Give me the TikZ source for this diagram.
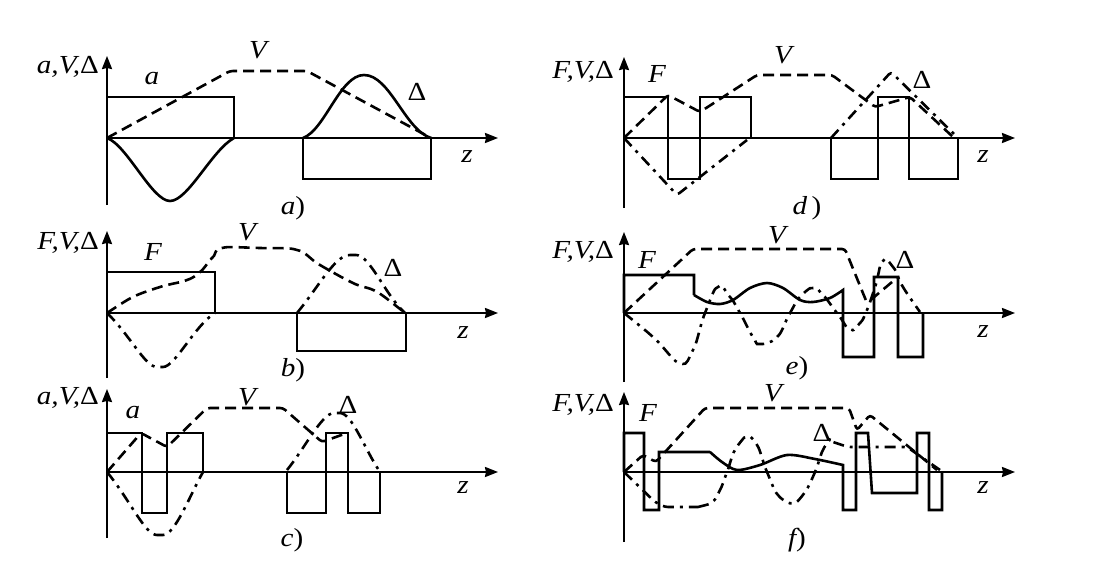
\documentclass[tikz,border=0pt]{standalone}
\usepackage{fontspec}
\setmainfont{Liberation Serif}
\newfontfamily\lblfont[FakeStretch=1.12]{Liberation Serif}
\usetikzlibrary{arrows,arrows.meta}

\begin{document}
\begin{tikzpicture}[x=1pt,y=-1pt,>={Stealth[length=13pt,width=10pt,inset=1pt]},line cap=butt]
\tikzstyle{axis}=[->,line width=2pt]
\tikzstyle{Fline}=[line width=2.6pt,line join=miter]
\tikzstyle{Vline}=[line width=2.6pt,dash pattern=on 11pt off 6pt,rounded corners=3pt]
\tikzstyle{Dline}=[line width=2.6pt,dash pattern=on 11pt off 6pt on 3pt off 6pt,rounded corners=3pt]
\tikzstyle{lbl}=[font=\lblfont\fontsize{26}{30}\selectfont,inner sep=0pt]
\useasboundingbox (0,0) rectangle (1094,564);
\fill[white] (0,0) rectangle (1094,564);

\coordinate (aO) at (107,138); \coordinate (aY) at (107,56);
\coordinate (aB) at (107,205); \coordinate (aZ) at (498,138);
\draw[axis] (aB) -- (aY);
\draw[axis] (aO) -- (aZ);
\node[lbl,anchor=east] (alab) at (99,67) {\itshape a,V,\upshape Δ};
\node[lbl] (aa) at (152,79) {\itshape a};
\node[lbl] (aV) at (258,50) {\itshape V};
\node[lbl] (aD) at (417,92) {Δ};
\node[lbl] (az) at (467,157) {\itshape z};
\node[lbl] (acap) at (293,208) {\itshape a\upshape)};
\draw[Fline] (aO) -- (107,97) -- (234,97) -- (234,138);
\draw[Fline] (303,138) -- (303,179) -- (431,179) -- (431,138);
\draw[Fline] (aO) .. controls (127,145) and (152,201) .. (170,201) .. controls (188,201) and (212,150) .. (234,138);
\draw[Fline] (303,138) .. controls (325,130) and (340,75) .. (364,75) .. controls (390,75) and (405,130) .. (431,138);
\draw[Vline] (aO) -- (230,71) -- (307,71) -- (431,138);

\coordinate (bO) at (107,313); \coordinate (bY) at (107,231);
\coordinate (bB) at (107,378); \coordinate (bZ) at (498,313);
\draw[axis] (bB) -- (bY);
\draw[axis] (bO) -- (bZ);
\node[lbl,anchor=east] (blab) at (99,243) {\itshape F,V,\upshape Δ};
\node[lbl] (bF) at (153,252) {\itshape F};
\node[lbl] (bV) at (247,232) {\itshape V};
\node[lbl] (bD) at (393,268) {Δ};
\node[lbl] (bz) at (463,333) {\itshape z};
\node[lbl] (bcap) at (293,370) {\itshape b\upshape)};
\draw[Fline] (bO) -- (107,272) -- (215,272) -- (215,313);
\draw[Fline] (297,313) -- (297,351) -- (406,351) -- (406,313);
\draw[Vline] plot[smooth,tension=0.5] coordinates {(107,313) (133,297) (160,287) (187,280) (200,272) (212,258) (222,248) (260,248) (297,250) (320,265) (353,283) (377,292) (405,313)};
\draw[Dline] (bO) .. controls (130,335) and (145,367) .. (160,367) .. controls (175,367) and (195,325) .. (215,313);
\draw[Dline] (297,313) .. controls (320,285) and (335,255) .. (353,255) .. controls (370,255) and (385,295) .. (405,313);

\coordinate (cO) at (107,472); \coordinate (cY) at (107,389);
\coordinate (cB) at (107,538); \coordinate (cZ) at (498,472);
\draw[axis] (cB) -- (cY);
\draw[axis] (cO) -- (cZ);
\node[lbl,anchor=east] (clab) at (99,398) {\itshape a,V,\upshape Δ};
\node[lbl] (ca) at (133,413) {\itshape a};
\node[lbl] (cV) at (247,397) {\itshape V};
\node[lbl] (cD) at (348,405) {Δ};
\node[lbl] (cz) at (463,488) {\itshape z};
\node[lbl] (ccap) at (292,540) {\itshape c\upshape)};
\draw[Fline] (cO) -- (107,433) -- (142,433) -- (142,513) -- (167,513) -- (167,433) -- (203,433) -- (203,472);
\draw[Fline] (287,472) -- (287,513) -- (326,513) -- (326,433) -- (348,433) -- (348,513) -- (380,513) -- (380,472);
\draw[Vline] (cO) -- (141,433) -- (167,447) -- (207,408) -- (283,408) -- (322,442) -- (347,433);
\draw[Dline] (cO) .. controls (130,500) and (145,535) .. (160,535) .. controls (175,535) and (190,495) .. (203,472);
\draw[Dline] (287,470) .. controls (305,448) and (322,413) .. (337,413) .. controls (352,413) and (365,450) .. (380,472);

\coordinate (dO) at (624,138); \coordinate (dY) at (624,57);
\coordinate (dB) at (624,208); \coordinate (dZ) at (1015,138);
\draw[axis] (dB) -- (dY);
\draw[axis] (dO) -- (dZ);
\node[lbl,anchor=east] (dlab) at (614,72) {\itshape F,V,\upshape Δ};
\node[lbl] (dF) at (657,74) {\itshape F};
\node[lbl] (dV) at (783,55) {\itshape V};
\node[lbl] (dD) at (922,80) {Δ};
\node[lbl] (dz) at (983,157) {\itshape z};
\node[lbl] (dcap) at (807,208) {\itshape d\upshape\,)};
\draw[Fline] (dO) -- (624,97) -- (668,97) -- (668,179) -- (700,179) -- (700,97) -- (751,97) -- (751,138);
\draw[Fline] (831,138) -- (831,179) -- (878,179) -- (878,97) -- (909,97) -- (909,179) -- (958,179) -- (958,138);
\draw[Vline] (dO) -- (668,95) -- (700,112) -- (757,75) -- (832,75) -- (875,107) -- (910,97) -- (953,137);
\draw[Dline] (dO) -- (677,195) -- (747,140);
\draw[Dline] (831,138) -- (891,72) -- (958,138);

\coordinate (eO) at (624,313); \coordinate (eY) at (624,232);
\coordinate (eB) at (624,382); \coordinate (eZ) at (1015,313);
\draw[axis] (eB) -- (eY);
\draw[axis] (eO) -- (eZ);
\node[lbl,anchor=east] (elab) at (614,252) {\itshape F,V,\upshape Δ};
\node[lbl] (eF) at (647,260) {\itshape F};
\node[lbl] (eV) at (777,235) {\itshape V};
\node[lbl] (eD) at (905,260) {Δ};
\node[lbl] (ez) at (983,332) {\itshape z};
\node[lbl] (ecap) at (797,368) {\itshape e\upshape)};
\draw[Fline] (eO) -- (624,275) -- (694,275) -- (694,295) plot[smooth] coordinates {(694,295) (707,302) (720,304) (733,300) (750,288) (767,283) (783,288) (800,300) (813,302) (830,298) (843,290)} -- (843,357) -- (874,357) -- (874,277) -- (898,277) -- (898,357) -- (923,357) -- (923,313);
\draw[Vline] (eO) -- (693,249) -- (845,249) -- (867,303) -- (898,277);
\draw[Dline] plot[smooth,tension=0.6] coordinates {(624,313) (653,337) (680,363) (693,350) (705,313) (718,287) (730,297) (740,313) (753,337) (760,344) (777,337) (790,313) (800,297) (813,288) (823,295) (837,313) (850,329) (860,323) (867,310) (875,287) (883,261) (893,267) (903,287) (920,312)};

\coordinate (fO) at (624,472); \coordinate (fY) at (624,392);
\coordinate (fB) at (624,542); \coordinate (fZ) at (1015,472);
\draw[axis] (fB) -- (fY);
\draw[axis] (fO) -- (fZ);
\node[lbl,anchor=east] (flab) at (614,405) {\itshape F,V,\upshape Δ};
\node[lbl] (fF) at (648,413) {\itshape F};
\node[lbl] (fV) at (773,393) {\itshape V};
\node[lbl] (fD) at (822,433) {Δ};
\node[lbl] (fz) at (983,488) {\itshape z};
\node[lbl] (fcap) at (797,540) {\itshape f\upshape)};
\draw[Fline] (fO) -- (624,433) -- (644,433) -- (644,510) -- (659,510) -- (659,452) -- (710,452) plot[smooth] coordinates {(710,452) (722,462) (737,470) (760,465) (787,455) (815,459) (843,465)} -- (843,510) -- (856,510) -- (856,433) -- (868,433) -- (872,493) -- (917,493) -- (917,433) -- (929,433) -- (929,510) -- (942,510) -- (942,472);
\draw[Vline] (fO) -- (643,455) -- (656,462) -- (705,408) -- (849,408) -- (857,430) -- (870,415) -- (937,470);
\draw[Dline] (fO) -- (655,502) -- (665,507) -- (698,507) plot[smooth] coordinates {(698,507) (712,502) (720,490) (727,472) (735,450) (747,437) (757,445) (767,472) (778,495) (793,503) (805,492) (815,472) (823,450) (830,441)} -- (848,447) -- (907,447) -- (940,470);
\end{tikzpicture}
\end{document}
